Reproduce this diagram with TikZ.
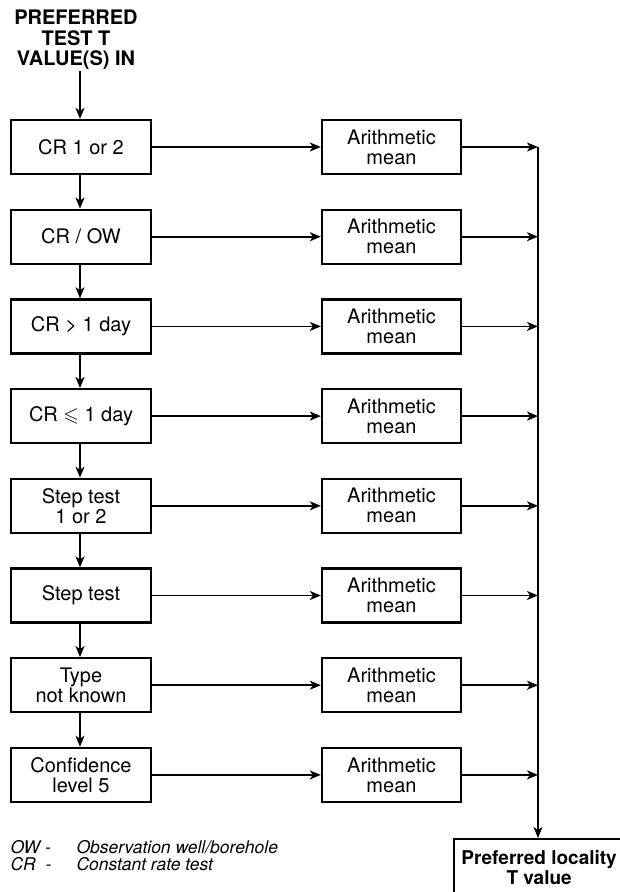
\documentclass[tikz,border=0pt]{standalone}
\usepackage{amssymb}
\usepackage{fontspec}
\setmainfont{TeX Gyre Heros}
\usetikzlibrary{arrows.meta}
\begin{document}
\begin{tikzpicture}[x=1pt,y=-1pt,
  lbox/.style={draw,line width=2.3pt,minimum width=140pt,minimum height=54pt,inner sep=0pt,align=center,font=\fontsize{20}{20}\selectfont},
  rbox/.style={draw,line width=2.3pt,minimum width=139pt,minimum height=54pt,inner sep=0pt,align=center,font=\fontsize{20}{20}\selectfont},
  conn/.style={line width=1.6pt,-{Stealth[length=11pt,width=9pt,inset=3pt]}},
  legend/.style={anchor=base west,font=\fontsize{17.5}{17.5}\selectfont\itshape}]
\useasboundingbox (0,0) rectangle (620,892);
\clip (0,0) rectangle (620,892);
\node[align=center,font=\fontsize{20}{20.5}\selectfont\bfseries] (title) at (76,40) {PREFERRED\\TEST T\\VALUE(S) IN};
\coordinate (tbot) at (80,71);
\foreach \i/\txt in {1/{CR 1 or 2},2/{CR / OW},3/{CR > 1 day},4/{CR $\leqslant$ 1 day},5/{Step test\\1 or 2},6/{Step test},7/{Type\\not known},8/{Confidence\\level 5}}{
  \pgfmathsetmacro{\yc}{147+89.7*(\i-1)}
  \node[lbox] (L\i) at (81,\yc) {\txt};
  \node[rbox] (R\i) at (391.5,\yc) {Arithmetic\\mean};
  \coordinate (V\i) at (538,\yc);
  \draw[conn] (L\i.east) -- (R\i.west);
  \draw[conn] (R\i.east) -- (V\i);
}
\node[draw,line width=2.3pt,anchor=north west,minimum width=190pt,inner xsep=0pt,inner ysep=11pt,align=center,font=\fontsize{19}{20}\selectfont\bfseries] (fin) at (453,838) {\hspace*{-20pt}Preferred locality\\\hspace*{-20pt}T value};
\draw[conn] (tbot) -- (L1.north -| tbot);
\foreach \a/\b in {1/2,2/3,3/4,4/5,5/6,6/7,7/8}{
  \draw[conn] (L\a.south -| tbot) -- (L\b.north -| tbot);
}
\draw[conn] (V1) -- (V1 |- fin.north);
\node[legend] (ow) at (7,853) {OW -};
\node[legend] (owt) at (73,853) {Observation well/borehole};
\node[legend] (cr) at (7,870) {CR\ \ -};
\node[legend] (crt) at (73,870) {Constant rate test};
\end{tikzpicture}
\end{document}
